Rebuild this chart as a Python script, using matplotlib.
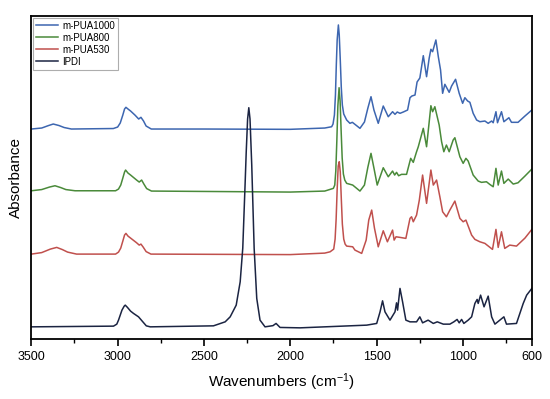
import numpy as np
import matplotlib.pyplot as plt

plt.rcParams['font.family'] = ['Liberation Sans', 'DejaVu Sans']
plt.rcParams['mathtext.default'] = 'regular'

# FTIR spectra, absorbance (a.u.), relative to each baseline
wn_pua1000 = [3500, 3440, 3400, 3373, 3340, 3310, 3268, 3025, 3000, 2985, 2970, 2960, 2952, 2940, 2925,
              2900, 2878, 2865, 2850, 2835, 2805,
              2500, 2000, 1800, 1760, 1752, 1744, 1738, 1733, 1728, 1721, 1716, 1710, 1704, 1698, 1690,
              1673, 1654, 1640, 1620,
              1596, 1570, 1550, 1532, 1515, 1490, 1461, 1432, 1407, 1393, 1380, 1364, 1345, 1320, 1306,
              1295, 1277, 1265, 1249, 1229, 1210, 1195, 1185, 1175, 1156, 1142, 1129, 1117, 1104, 1079,
              1065, 1042, 1021, 1001, 988, 972, 959, 940, 920, 901, 872, 853, 833, 824, 808, 799, 776,
              762, 733, 718, 680, 640, 600]
abs_pua1000 = [0.0, 0.01, 0.035, 0.05, 0.035, 0.015, 0.0, 0.005, 0.02, 0.06, 0.14, 0.2, 0.217, 0.2, 0.18,
               0.14, 0.10, 0.117, 0.08, 0.03, 0.0,
               0.0, -0.003, 0.01, 0.023, 0.05, 0.14, 0.34, 0.64, 0.89, 1.04, 0.94, 0.69, 0.41, 0.24, 0.15,
               0.09, 0.057, 0.067, 0.04,
               0.007, 0.07, 0.21, 0.323, 0.19, 0.057, 0.23, 0.123, 0.173, 0.147, 0.17, 0.157, 0.17, 0.19, 0.313,
               0.33, 0.34, 0.47, 0.51, 0.733, 0.523, 0.707, 0.797, 0.773, 0.89, 0.723, 0.59, 0.357, 0.447, 0.367,
               0.43, 0.497, 0.357, 0.257, 0.313, 0.28, 0.267, 0.157, 0.09, 0.073, 0.08, 0.057, 0.08, 0.063, 0.173, 0.063, 0.173,
               0.073, 0.113, 0.067, 0.067, 0.13, 0.19]

wn_pua800 = [3500, 3440, 3395, 3363, 3330, 3300, 3247, 3012, 2995, 2982, 2970, 2960, 2954, 2940, 2925,
             2890, 2875, 2861, 2848, 2832, 2804,
             2000, 1800, 1750, 1742, 1736, 1730, 1724, 1717, 1711, 1705, 1699, 1692, 1684, 1673, 1638,
             1596, 1570, 1550,
             1532, 1515, 1496, 1461, 1432, 1407, 1395, 1384, 1372, 1355, 1326, 1302, 1287, 1268, 1258,
             1229, 1210, 1185, 1175, 1162, 1137, 1123, 1110, 1095, 1079, 1056, 1046, 1017, 998, 982, 969,
             940, 911, 892, 863, 844, 824, 808, 795, 776, 762, 737, 708, 680, 640, 600]
abs_pua800 = [0.003, 0.015, 0.04, 0.053, 0.035, 0.015, 0.003, 0.003, 0.02, 0.06, 0.13, 0.19, 0.21, 0.18, 0.16,
              0.11, 0.09, 0.11, 0.07, 0.025, 0.0,
              -0.01, 0.0, 0.027, 0.06, 0.2, 0.5, 0.85, 1.033, 0.90, 0.6, 0.33, 0.17, 0.11, 0.077, 0.06,
              0.0, 0.06, 0.24,
              0.377, 0.23, 0.06, 0.233, 0.143, 0.20, 0.16, 0.187, 0.153, 0.167, 0.167, 0.327, 0.287, 0.393, 0.443,
              0.627, 0.443, 0.853, 0.793, 0.843, 0.66, 0.493, 0.393, 0.46, 0.393, 0.51, 0.533, 0.343, 0.277, 0.327, 0.30,
              0.16, 0.10, 0.087, 0.093, 0.067, 0.043, 0.227, 0.06, 0.20, 0.077, 0.12, 0.07, 0.083, 0.15, 0.22]

wn_pua530 = [3500, 3440, 3390, 3353, 3320, 3290, 3238, 3012, 2995, 2982, 2970, 2960, 2952, 2940, 2925,
             2890, 2875, 2865, 2852, 2835, 2807,
             2000, 1800, 1769, 1748, 1740, 1734, 1728, 1722, 1716, 1710, 1704, 1698, 1690, 1682, 1673,
             1638, 1625, 1586, 1560,
             1545, 1528, 1512, 1490, 1461, 1437, 1407, 1398, 1387, 1364, 1330, 1306, 1297, 1287, 1268,
             1252, 1233, 1210, 1185, 1171, 1152, 1133, 1117, 1095, 1075, 1046, 1017, 998, 982, 949, 930,
             901, 872, 828, 808, 795, 776, 757, 728, 689, 640, 600]
abs_pua530 = [0.0, 0.015, 0.05, 0.067, 0.045, 0.02, 0.0, 0.0, 0.02, 0.06, 0.13, 0.19, 0.207, 0.18, 0.16,
              0.113, 0.09, 0.10, 0.07, 0.025, 0.0,
              -0.005, 0.01, 0.023, 0.05, 0.15, 0.35, 0.65, 0.88, 0.923, 0.82, 0.55, 0.3, 0.15, 0.1, 0.08,
              0.073, 0.04, 0.007, 0.14,
              0.34, 0.44, 0.26, 0.073, 0.233, 0.123, 0.24, 0.14, 0.173, 0.167, 0.157, 0.357, 0.373, 0.323, 0.39,
              0.54, 0.79, 0.507, 0.84, 0.69, 0.74, 0.573, 0.423, 0.373, 0.44, 0.53, 0.357, 0.323, 0.34, 0.19, 0.147,
              0.123, 0.107, 0.047, 0.247, 0.067, 0.223, 0.057, 0.09, 0.08, 0.16, 0.247]

wn_ipdi = [3500, 3024, 3005, 2995, 2975, 2962, 2956, 2943, 2925, 2908, 2879, 2859, 2834, 2811, 2445, 2377,
           2348, 2313, 2290, 2275, 2261, 2255, 2247, 2240, 2233, 2228, 2223, 2209, 2194, 2175, 2146,
           2100, 2082, 2059, 1943, 1557,
           1499, 1480, 1465, 1451, 1422, 1393, 1384, 1378, 1364, 1349, 1330, 1306, 1268, 1249, 1233,
           1201, 1171, 1148, 1113, 1075, 1052, 1033, 1021, 1007, 994, 969, 949, 930, 917, 911, 897,
           877, 853, 833, 814, 762, 747, 689, 650, 630, 600]
abs_ipdi = [0.003, 0.01, 0.03, 0.07, 0.17, 0.21, 0.22, 0.197, 0.16, 0.137, 0.103, 0.063, 0.013, 0.003, 0.013, 0.053,
            0.103, 0.22, 0.453, 0.79, 1.453, 1.75, 2.08, 2.193, 2.08, 1.85, 1.62, 0.787, 0.287, 0.07, 0.003,
            0.015, 0.037, -0.003, -0.007, 0.02,
            0.037, 0.15, 0.263, 0.153, 0.07, 0.153, 0.243, 0.17, 0.387, 0.253, 0.07, 0.053, 0.053, 0.103, 0.043,
            0.07, 0.037, 0.053, 0.03, 0.03, 0.053, 0.077, 0.043, 0.077, 0.037, 0.07, 0.103, 0.237, 0.277, 0.237, 0.32,
            0.203, 0.31, 0.103, 0.03, 0.103, 0.03, 0.037, 0.237, 0.32, 0.387]

labels = ['m-PUA1000', 'm-PUA800', 'm-PUA530', 'IPDI']
offsets = [2.10, 1.48, 0.85, 0.12]
colors = ['#3d66b0', '#4a8a3a', '#c0504d', '#1b2442']

series = [(wn_pua1000, abs_pua1000), (wn_pua800, abs_pua800),
          (wn_pua530, abs_pua530), (wn_ipdi, abs_ipdi)]

fig, ax = plt.subplots(figsize=(5.5, 3.99), dpi=100)
fig.subplots_adjust(left=0.057, right=0.967, bottom=0.150, top=0.960)

for (wn, a), lbl, off, c in zip(series, labels, offsets, colors):
    ax.plot(wn, np.array(a) + off, color=c, lw=1.1, label=lbl)

ax.set_xlim(3500, 600)
ax.set_ylim(0, 3.23)
ax.set_xticks([3500, 3000, 2500, 2000, 1500, 1000, 600])
ax.set_xticks([3250, 2750, 2250, 1750, 1250, 750], minor=True)
ax.tick_params(axis='x', which='major', direction='out', length=5, width=1.2, labelsize=9)
ax.tick_params(axis='x', which='minor', direction='out', length=3, width=1.0)
ax.set_yticks([])
for sp in ax.spines.values():
    sp.set_linewidth(1.3)

ax.set_xlabel('Wavenumbers (cm$^{-1}$)', fontsize=11, labelpad=6)
ax.set_ylabel('Absorbance', fontsize=11, labelpad=6)

leg = ax.legend(loc='upper left', fontsize=7, frameon=True, fancybox=False,
                edgecolor='#999999', handlelength=2.2, borderpad=0.3,
                labelspacing=0.2, handletextpad=0.5, borderaxespad=0.2)
leg.get_frame().set_linewidth(0.8)

plt.savefig('out.png', dpi=100)
